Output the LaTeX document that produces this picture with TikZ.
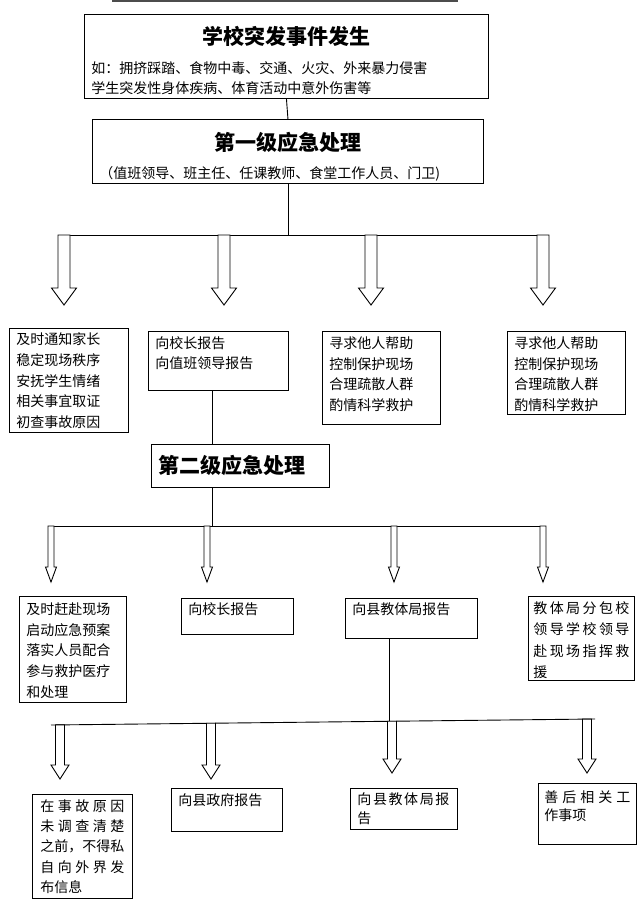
\documentclass[tikz,border=0pt]{standalone}
\usepackage{fontspec}
\setmainfont{Noto Sans CJK SC}
\usetikzlibrary{calc}

\newcommand{\titlefont}{\fontsize{21}{21}\selectfont\bfseries}
\newcommand{\spreadline}[1]{\makebox[\hsize][s]{#1}}
% hollow block arrow: start, tip, half shaft, half head, head length
\newcommand{\hollowarrow}[5]{%
  \draw[wire, fill=white] ($(#1)+(-#3,0)$) -- ($(#2)+(-#3,-#5)$) -- ($(#2)+(-#4,-#5)$)
    -- (#2) -- ($(#2)+(#4,-#5)$) -- ($(#2)+(#3,-#5)$) -- ($(#1)+(#3,0)$) -- cycle;}

\tikzset{
  wire/.style={line width=0.9pt},
  box/.style={draw, line width=0.9pt, anchor=north west, align=left,
    inner xsep=7pt, inner ysep=5pt, text height=11pt,
    font=\fontsize{14}{20.5}\selectfont},
  lines/.style={font=\fontsize{14}{#1}\selectfont},
}

\begin{document}
\begin{tikzpicture}[x=1pt, y=-1pt]
  \useasboundingbox (0,0) rectangle (637,905);

  % boxes
  \node[draw=black!70, line width=1.2pt, anchor=south west, minimum width=345pt,
    minimum height=30pt, inner sep=0pt] (prev) at (112,1.5) {};
  \node[box, text width=390pt, text height=25pt, text depth=49pt, lines=20pt] (event) at (84,14)
    {\makebox[\hsize][c]{\titlefont 学校突发事件发生}\\[9pt]如：拥挤踩踏、食物中毒、交通、火灾、外来暴力侵害\\学生突发性身体疾病、体育活动中意外伤害等};
  \node[box, text width=377pt, text height=26pt, text depth=28pt, lines=20pt] (level1) at (92,119)
    {\makebox[\hsize][c]{\titlefont 第一级应急处理}\\[8pt]（值班领导、班主任、任课教师、食堂工作人员、门卫)};

  \node[box, text width=105pt, text depth=83pt, lines=20.8pt] (notify) at (9,328)
    {及时通知家长\\稳定现场秩序\\安抚学生情绪\\相关事宜取证\\初查事故原因};
  \node[box, text width=126pt, text height=12pt, text depth=37pt, lines=20pt] (report1) at (148,331)
    {向校长报告\\向值班领导报告};
  \node[box, text width=104pt, text height=12pt, text depth=71pt, lines=20.7pt] (helpa) at (322,331)
    {寻求他人帮助\\控制保护现场\\合理疏散人群\\酌情科学救护};
  \node[box, text width=104pt, text height=12pt, text depth=61pt, lines=20.7pt] (helpb) at (507,331)
    {寻求他人帮助\\控制保护现场\\合理疏散人群\\酌情科学救护};

  \node[box, text width=164pt, text height=24pt, text depth=9pt] (level2) at (151,444)
    {\titlefont 第二级应急处理};

  \node[box, text width=93pt, text height=13pt, text depth=83pt, lines=20.75pt] (rush) at (19,596)
    {及时赶赴现场\\启动应急预案\\落实人员配合\\参与救护医疗\\和处理};
  \node[box, text width=98pt, text depth=15pt] (principal) at (181,598) {向校长报告};
  \node[box, text width=118pt, text depth=19pt] (bureaua) at (345,598) {向县教体局报告};
  \node[box, inner xsep=5pt, text width=96pt, text height=12pt, text depth=62pt, lines=21.3pt] (leaders) at (528,596)
    {\spreadline{教\hfil 体\hfil 局\hfil 分\hfil 包\hfil 校}\\
     \spreadline{领\hfil 导\hfil 学\hfil 校\hfil 领\hfil 导}\\
     \spreadline{赴\hfil 现\hfil 场\hfil 指\hfil 挥\hfil 救}\\援};

  \node[box, inner xsep=8pt, text width=84pt, text height=12pt, text depth=82pt, lines=20.25pt] (silence) at (32,794)
    {\spreadline{在\hfil 事\hfil 故\hfil 原\hfil 因}\\
     \spreadline{未\hfil 调\hfil 查\hfil 清\hfil 楚}\\
     之前，不得私\\
     \spreadline{自\hfil 向\hfil 外\hfil 界\hfil 发}\\布信息};
  \node[box, text width=97pt, text height=12pt, text depth=21pt] (gov) at (171,788) {向县政府报告};
  \node[box, text width=93pt, text depth=20pt, lines=19pt] (bureaub) at (350,788)
    {\makebox[92pt][s]{向\hfil 县\hfil 教\hfil 体\hfil 局\hfil 报}\\告};
  \node[box, inner xsep=6pt, text width=86pt, text height=14pt, text depth=37pt, lines=18pt] (aftermath) at (538,783)
    {\spreadline{善\hfil 后\hfil 相\hfil 关\hfil 工}\\作事项};

  % first level
  \foreach \x/\n in {64/1,224/2,371/3,543/4} {
    \coordinate (u\n) at (\x,235);
    \coordinate (v\n) at (\x,305);
  }
  \draw[wire] (event.south) -- (level1.north);
  \draw[wire] (level1.south) -- (level1.south |- u1);
  \draw[wire] ([xshift=-6pt]u1) -- ([xshift=6pt]u4);
  \foreach \n in {1,...,4} {\hollowarrow{u\n}{v\n}{6}{12.5}{17}}

  % second level
  \coordinate (k2) at (212,526);
  \draw[wire] (report1.south -| k2) -- (level2.north -| k2);
  \draw[wire] (level2.south -| k2) -- (k2);
  \foreach \x/\n in {51/1,207/2,394/3,543/4} {
    \coordinate (w\n) at (\x,526);
    \coordinate (z\n) at (\x,582);
  }
  \draw[wire] ([xshift=-3pt]w1) -- ([xshift=3pt]w4);
  \foreach \n in {1,...,4} {\hollowarrow{w\n}{z\n}{3}{5.5}{15}}

  % report to county bureau
  \coordinate (k3) at (389,721.2);
  \coordinate (m0) at (51,725);
  \coordinate (m5) at (595,719);
  \draw[wire] (bureaua.south -| k3) -- (k3);
  \draw[wire] (m0) -- (m5);
  \coordinate (r1) at (60,724.9);  \coordinate (q1) at (60,779);
  \coordinate (r2) at (211,723.2); \coordinate (q2) at (211,779);
  \coordinate (r3) at (392,721.2); \coordinate (q3) at (392,773);
  \coordinate (r4) at (587,719.1); \coordinate (q4) at (587,773);
  \foreach \n in {1,...,4} {\hollowarrow{r\n}{q\n}{4.5}{9}{14}}
\end{tikzpicture}
\end{document}
